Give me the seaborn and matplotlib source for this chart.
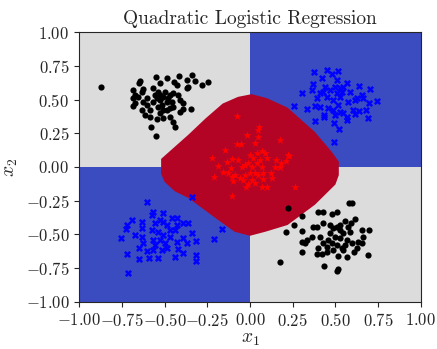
import numpy as np
import pandas as pd
import matplotlib
matplotlib.use("Agg")
import matplotlib.pyplot as plt
import seaborn as sns

sns.set_style("ticks")
plt.rcParams['font.family'] = ['serif']
plt.rcParams['font.serif'] = ['cmr10']
plt.rcParams['mathtext.fontset'] = 'cm'
plt.rcParams['axes.formatter.use_mathtext'] = True

# class 0 points (black dots), two clusters
black_x = [-0.871, -0.643, -0.651, -0.550, -0.483, -0.413, -0.339, -0.370, -0.321, -0.244,
           -0.283, -0.442, -0.429, -0.370, -0.360, -0.682, -0.672, -0.633, -0.624, -0.604,
           -0.682, -0.565, -0.526, -0.536, -0.682, -0.672, -0.633, -0.604, -0.585, -0.614,
           -0.585, -0.546, -0.526, -0.507, -0.468, -0.448, -0.438, -0.579, -0.550, -0.487,
           -0.448, -0.409, -0.390, -0.345, -0.394, -0.419, -0.409, -0.526, -0.507, -0.487,
           -0.516, -0.546, -0.468, -0.497, -0.477, -0.536, -0.458, -0.507, -0.555, -0.448,
           -0.565, -0.624, -0.653, -0.468, -0.526,
           0.224, 0.302, 0.257, 0.210, 0.175, 0.304, 0.304, 0.304, 0.396, 0.429,
           0.478, 0.507, 0.581, 0.600, 0.616, 0.589, 0.557, 0.429, 0.370, 0.390,
           0.331, 0.322, 0.361, 0.400, 0.390, 0.419, 0.435, 0.513, 0.511, 0.515,
           0.569, 0.690, 0.655, 0.696, 0.663, 0.653, 0.624, 0.608, 0.634, 0.488,
           0.507, 0.526, 0.468, 0.497, 0.526, 0.458, 0.478, 0.507, 0.546, 0.565,
           0.556, 0.536, 0.448, 0.487, 0.429, 0.409, 0.585, 0.595, 0.575, 0.526,
           0.468, 0.546, 0.448]
black_y = [0.593, 0.640, 0.620, 0.669, 0.662, 0.674, 0.684, 0.645, 0.635, 0.632,
           0.605, 0.632, 0.608, 0.583, 0.595, 0.571, 0.534, 0.558, 0.575, 0.509,
           0.509, 0.583, 0.620, 0.558, 0.452, 0.472, 0.422, 0.459, 0.422, 0.385,
           0.373, 0.353, 0.398, 0.361, 0.368, 0.336, 0.299, 0.299, 0.230, 0.422,
           0.442, 0.410, 0.427, 0.427, 0.477, 0.534, 0.496, 0.496, 0.521, 0.484,
           0.459, 0.509, 0.534, 0.558, 0.509, 0.447, 0.484, 0.422, 0.534, 0.546,
           0.484, 0.484, 0.521, 0.435, 0.534,
           -0.306, -0.363, -0.427, -0.479, -0.701, -0.474, -0.558, -0.630, -0.333, -0.331,
           -0.350, -0.331, -0.269, -0.269, -0.385, -0.412, -0.400, -0.412, -0.442, -0.442,
           -0.541, -0.560, -0.521, -0.602, -0.647, -0.647, -0.733, -0.753, -0.770, -0.659,
           -0.664, -0.649, -0.469, -0.467, -0.521, -0.565, -0.602, -0.627, -0.553, -0.454,
           -0.442, -0.467, -0.491, -0.516, -0.528, -0.541, -0.565, -0.578, -0.491, -0.541,
           -0.578, -0.602, -0.590, -0.615, -0.565, -0.516, -0.479, -0.565, -0.442, -0.430,
           -0.430, -0.615, -0.627]

# class 1 points (blue crosses), two clusters
blue_x = [0.376, 0.452, 0.478, 0.518, 0.306, 0.259, 0.331, 0.380, 0.435, 0.435,
          0.493, 0.524, 0.489, 0.565, 0.567, 0.614, 0.637, 0.678, 0.692, 0.696,
          0.745, 0.704, 0.641, 0.653, 0.624, 0.663, 0.614, 0.585, 0.575, 0.565,
          0.507, 0.419, 0.370, 0.361, 0.390, 0.380, 0.409, 0.458, 0.487, 0.517,
          0.526, 0.536, 0.468, 0.429, 0.448, 0.487, 0.526, 0.546, 0.604, 0.497,
          0.439, 0.409, 0.497, 0.526, 0.507, 0.546,
          -0.341, -0.604, -0.692, -0.721, -0.725, -0.754, -0.721, -0.713, -0.649, -0.589,
          -0.536, -0.437, -0.316, -0.316, -0.390, -0.419, -0.164, -0.210, -0.316, -0.339,
          -0.360, -0.390, -0.429, -0.458, -0.507, -0.565, -0.575, -0.629, -0.633, -0.672,
          -0.633, -0.624, -0.649, -0.604, -0.565, -0.516, -0.487, -0.526, -0.507, -0.468,
          -0.438, -0.429, -0.390, -0.370, -0.575, -0.555, -0.526, -0.487, -0.468, -0.565,
          -0.497, -0.536, -0.507, -0.429, -0.555]
blue_y = [0.706, 0.719, 0.687, 0.709, 0.551, 0.452, 0.427, 0.341, 0.368, 0.385,
          0.324, 0.284, 0.188, 0.348, 0.368, 0.393, 0.417, 0.422, 0.361, 0.477,
          0.489, 0.575, 0.603, 0.534, 0.509, 0.509, 0.496, 0.553, 0.484, 0.620,
          0.645, 0.657, 0.613, 0.571, 0.509, 0.452, 0.447, 0.435, 0.422, 0.459,
          0.583, 0.558, 0.571, 0.558, 0.521, 0.496, 0.521, 0.398, 0.422, 0.385,
          0.595, 0.546, 0.595, 0.410, 0.546, 0.595,
          -0.220, -0.262, -0.392, -0.430, -0.462, -0.523, -0.642, -0.783, -0.681, -0.672,
          -0.674, -0.667, -0.652, -0.699, -0.634, -0.610, -0.459, -0.536, -0.548, -0.491,
          -0.412, -0.412, -0.380, -0.380, -0.343, -0.331, -0.355, -0.410, -0.454, -0.504,
          -0.516, -0.565, -0.602, -0.620, -0.615, -0.615, -0.602, -0.541, -0.504, -0.516,
          -0.467, -0.553, -0.528, -0.565, -0.467, -0.417, -0.392, -0.430, -0.467, -0.541,
          -0.565, -0.479, -0.405, -0.430, -0.578]

# class 2 points (red stars), centre cluster
red_x = [0.055, 0.049, -0.019, 0.045, 0.175, 0.029, -0.078, -0.053, -0.146, -0.220,
         -0.189, -0.134, -0.103, -0.068, -0.156, -0.211, -0.111, -0.127, -0.098, -0.107,
         -0.024, -0.010, 0.029, 0.072, 0.097, 0.078, 0.130, 0.126, 0.146, 0.150,
         0.181, 0.209, 0.224, 0.175, 0.088, 0.068, 0.097, 0.000, 0.019, 0.039,
         -0.010, -0.029, -0.049, 0.010, 0.039, 0.058, 0.068, 0.029, 0.000, -0.029,
         -0.058, -0.039, 0.010, 0.049, 0.078, -0.088, -0.107, -0.078, 0.230, 0.263,
         0.177]
red_y = [0.299, 0.274, 0.237, 0.220, 0.200, 0.180, 0.168, 0.168, 0.126, 0.069,
         0.010, 0.039, 0.057, 0.052, -0.040, -0.072, -0.005, -0.047, -0.101, -0.212,
         -0.146, -0.126, -0.116, -0.151, -0.151, -0.092, -0.084, -0.047, 0.002, 0.052,
         0.027, 0.047, 0.089, 0.002, 0.101, 0.121, 0.064, 0.089, 0.064, 0.101,
         0.027, 0.015, 0.002, 0.002, 0.027, 0.052, 0.002, -0.047, -0.047, -0.059,
         -0.084, -0.096, -0.096, -0.059, -0.047, -0.059, -0.072, 0.378, 0.081, -0.146,
         0.002]

# predicted class per quadrant (rows: x2<0, x2>0; cols: x1<0, x1>0)
grid_edges = [-1.0, 0.0, 1.0]
quadrant_class = [[0, 1],
                  [1, 0]]

# outline of the region predicted as class 2
boundary_x = [0.52, 0.52, 0.48, 0.38, 0.22, 0.10, 0.01, -0.07, -0.16, -0.26,
              -0.36, -0.44, -0.52, -0.52, -0.50, -0.44, -0.36, -0.20, -0.09, 0.0,
              0.09, 0.22, 0.38, 0.50, 0.52]
boundary_y = [0.0, 0.04, 0.11, 0.26, 0.44, 0.51, 0.54, 0.52, 0.47, 0.36,
              0.24, 0.15, 0.06, -0.05, -0.11, -0.18, -0.23, -0.38, -0.48, -0.51,
              -0.48, -0.43, -0.28, -0.13, -0.06]

ticks = [-1.0, -0.75, -0.5, -0.25, 0.0, 0.25, 0.5, 0.75, 1.0]

cmap = plt.get_cmap('coolwarm')

fig, ax = plt.subplots(figsize=(4.37, 3.49), dpi=100)
fig.subplots_adjust(left=0.181, right=0.963, bottom=0.135, top=0.908)

ax.pcolormesh(grid_edges, grid_edges, np.array(quadrant_class), cmap=cmap,
              vmin=0, vmax=2, shading='flat')
ax.fill(boundary_x, boundary_y, color=cmap(1.0), lw=0)

sns.scatterplot(x=black_x, y=black_y, color='black', marker='o', s=20,
                linewidth=0, ax=ax)
sns.scatterplot(x=blue_x, y=blue_y, color='blue', marker='X', s=26,
                linewidth=0, ax=ax)
sns.scatterplot(x=red_x, y=red_y, color='red', marker='*', s=36,
                linewidth=0, ax=ax)

ax.set_xlim(-1, 1)
ax.set_ylim(-1, 1)
ax.set_xticks(ticks)
ax.set_yticks(ticks)
ax.set_xticklabels([f'${t:.2f}$' for t in ticks])
ax.set_yticklabels([f'${t:.2f}$' for t in ticks])
ax.tick_params(labelsize=12)
ax.set_xlabel('$x_1$', fontsize=14, labelpad=1)
ax.set_ylabel('$x_2$', fontsize=14)
ax.set_title('Quadratic Logistic Regression', fontsize=14)

plt.savefig('out.png', dpi=100)
